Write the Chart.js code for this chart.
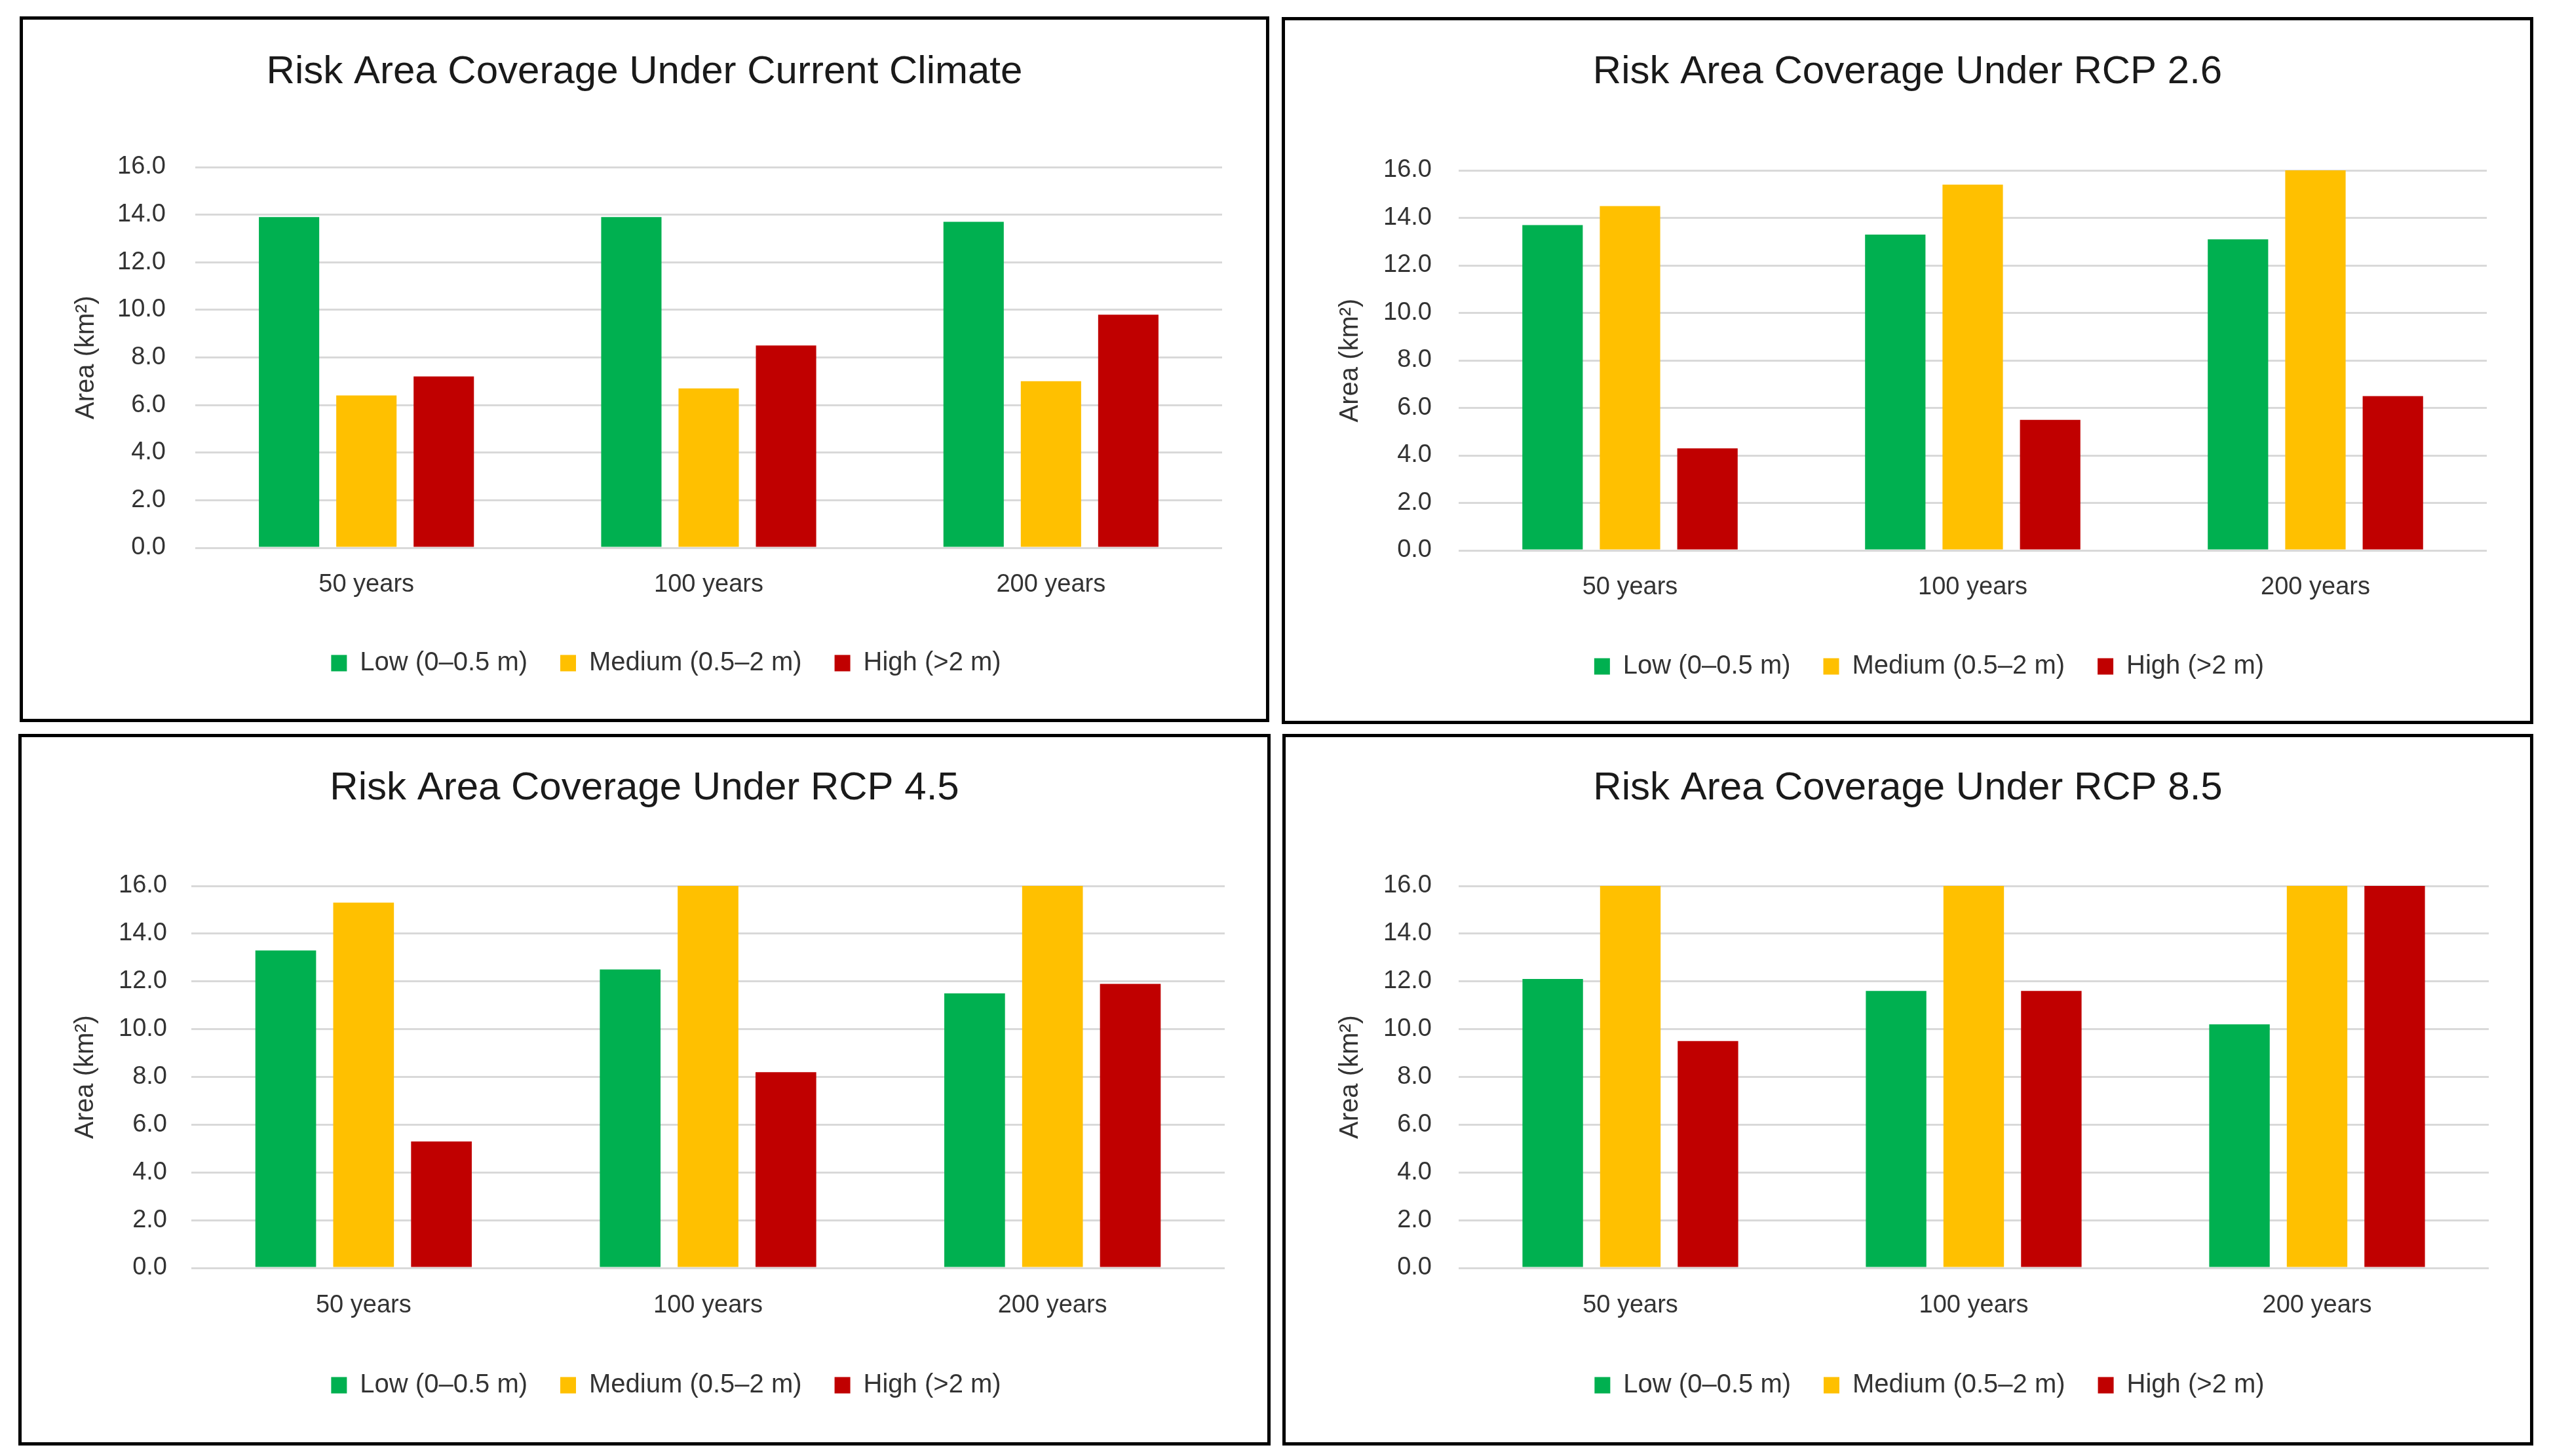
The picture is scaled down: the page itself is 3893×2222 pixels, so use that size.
<!DOCTYPE html>
<html>
<head>
<meta charset="utf-8">
<script src="https://cdn.jsdelivr.net/npm/chart.js@4/dist/chart.umd.min.js"></script>
<style>
  html, body { margin: 0; padding: 0; background: #fff; }
  body { width: 3893px; height: 2222px; position: relative; overflow: hidden; }
  .panel { position: absolute; box-sizing: border-box; border: 5px solid #000; background: #fff; }
  .panel canvas { display: block; }
</style>
</head>
<body>
<div class="panel" id="p0"><canvas id="c0"></canvas></div>
<div class="panel" id="p1"><canvas id="c1"></canvas></div>
<div class="panel" id="p2"><canvas id="c2"></canvas></div>
<div class="panel" id="p3"><canvas id="c3"></canvas></div>
<script>
// data
const periods = ['50 years', '100 years', '200 years'];
const seriesNames = ['Low (0–0.5 m)', 'Medium (0.5–2 m)', 'High (>2 m)'];
const chartTitles = [
  'Risk Area Coverage Under Current Climate',
  'Risk Area Coverage Under RCP 2.6',
  'Risk Area Coverage Under RCP 4.5',
  'Risk Area Coverage Under RCP 8.5'
];
const yAxisLabel = 'Area (km²)';
const yMin = 0, yMax = 16, yStep = 2;

const currentLow = [13.9, 13.9, 13.7];
const currentMedium = [6.4, 6.7, 7.0];
const currentHigh = [7.2, 8.5, 9.8];

const rcp26Low = [13.7, 13.3, 13.1];
const rcp26Medium = [14.5, 15.4, 16.0];
const rcp26High = [4.3, 5.5, 6.5];

const rcp45Low = [13.3, 12.5, 11.5];
const rcp45Medium = [15.3, 16.0, 16.0];
const rcp45High = [5.3, 8.2, 11.9];

const rcp85Low = [12.1, 11.6, 10.2];
const rcp85Medium = [16.0, 16.0, 16.0];
const rcp85High = [9.5, 11.6, 16.0];

const panelSeries = [
  [currentLow, currentMedium, currentHigh],
  [rcp26Low, rcp26Medium, rcp26High],
  [rcp45Low, rcp45Medium, rcp45High],
  [rcp85Low, rcp85Medium, rcp85High]
];

const barColors = ['#00B050', '#FFC000', '#C00000'];
const FONT = "'Liberation Sans', Arial, sans-serif";

const panelBoxes = [
  { left: 30,   top: 25,   width: 1907, height: 1077, plot: [298, 255, 1865, 836],   titleY: 110,  tickRight: 253,  yTitleX: 132,  xLabelY: 896,  legendY: 1012 },
  { left: 1956, top: 26,   width: 1910, height: 1079, plot: [2226, 260, 3795, 840],  titleY: 110,  tickRight: 2185, yTitleX: 2061, xLabelY: 900,  legendY: 1017 },
  { left: 28,   top: 1120, width: 1911, height: 1086, plot: [292, 1352, 1869, 1935], titleY: 1203, tickRight: 255,  yTitleX: 131,  xLabelY: 1996, legendY: 2114 },
  { left: 1957, top: 1120, width: 1909, height: 1086, plot: [2226, 1352, 3798, 1935],titleY: 1203, tickRight: 2185, yTitleX: 2061, xLabelY: 1996, legendY: 2114 }
];

const BORDER = 5;
const TITLE_SIZE = 60, TICK_SIZE = 38, LEGEND_SIZE = 40, YTITLE_SIZE = 40;
const LEGEND_PAD = 50;
const LEGEND_SHIFT = 33;

// the reference legend sits a little right of the panel centre
const legendShift = {
  id: 'legendShift',
  afterLayout(chart) {
    const lg = chart.legend;
    if (!lg) return;
    lg.left += LEGEND_SHIFT;
    lg.right += LEGEND_SHIFT;
  }
};

function buildPanel(i) {
  const g = panelBoxes[i];
  const div = document.getElementById('p' + i);
  div.style.left = g.left + 'px';
  div.style.top = g.top + 'px';
  div.style.width = g.width + 'px';
  div.style.height = g.height + 'px';

  const inX = g.left + BORDER, inY = g.top + BORDER;
  const inW = g.width - 2 * BORDER, inH = g.height - 2 * BORDER;
  const [pL, pT, pR, pB] = g.plot;
  const side = inX + inW - pR;
  const titleLH = TITLE_SIZE * 1.2;
  const tc = g.titleY - inY;
  const padBottom = inH - 30 - (g.legendY - inY);
  const legendH = LEGEND_SIZE + LEGEND_PAD + 10;
  const legendTop = inH - padBottom - legendH;
  const xAxisH = legendTop - (pB - inY);

  const canvas = document.getElementById('c' + i);
  canvas.width = inW; canvas.height = inH;

  const datasets = panelSeries[i].map((vals, k) => ({
    label: seriesNames[k],
    data: vals,
    backgroundColor: barColors[k],
    borderWidth: 0,
    categoryPercentage: 0.678,
    barPercentage: 0.78
  }));

  new Chart(canvas, {
    type: 'bar',
    data: { labels: periods, datasets },
    plugins: [legendShift],
    options: {
      responsive: false,
      animation: false,
      devicePixelRatio: 1,
      layout: { padding: { left: side, right: side, top: 0, bottom: padBottom } },
      scales: {
        x: {
          grid: { display: false, drawTicks: false },
          border: { display: false },
          ticks: { color: '#333', font: { family: FONT, size: TICK_SIZE }, padding: g.xLabelY - pB - 26, maxRotation: 0 },
          afterFit: s => { s.height = xAxisH; }
        },
        y: {
          min: yMin, max: yMax,
          grid: { color: '#D9D9D9', lineWidth: 3, drawTicks: false },
          border: { display: false },
          ticks: {
            stepSize: yStep,
            color: '#333',
            font: { family: FONT, size: TICK_SIZE },
            padding: pL - g.tickRight,
            callback: v => Number(v).toFixed(1)
          },
          title: {
            display: true,
            text: yAxisLabel,
            color: '#333',
            font: { family: FONT, size: YTITLE_SIZE },
            padding: { top: (g.yTitleX - inX) - side - YTITLE_SIZE * 0.6, bottom: 0 }
          },
          afterFit: s => { s.width = pL - inX - side; }
        }
      },
      plugins: {
        title: {
          display: true,
          text: chartTitles[i],
          color: '#1a1a1a',
          font: { family: FONT, size: TITLE_SIZE, weight: 'normal', lineHeight: 1.2 },
          padding: { top: tc - titleLH / 2, bottom: (pT - inY) - (tc + titleLH / 2) }
        },
        legend: {
          position: 'bottom',
          labels: {
            color: '#333',
            font: { family: FONT, size: LEGEND_SIZE },
            boxWidth: 24,
            boxHeight: 25,
            padding: LEGEND_PAD
          }
        },
        tooltip: { enabled: false }
      }
    }
  });
}

[0, 1, 2, 3].forEach(buildPanel);
</script>
</body>
</html>
